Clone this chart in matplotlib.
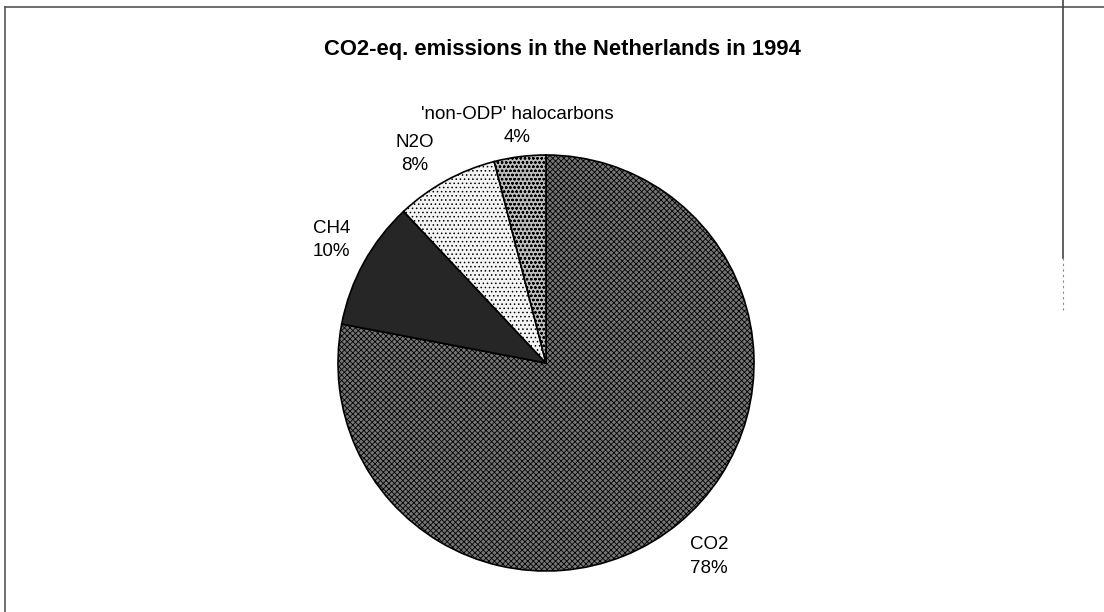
import numpy as np
import matplotlib
matplotlib.use("Agg")
import matplotlib.pyplot as plt
from matplotlib.lines import Line2D

plt.rcParams['font.family'] = ['Liberation Sans', 'DejaVu Sans']
plt.rcParams['hatch.linewidth'] = 0.6

# data
gases = ["CO2", "CH4", "N2O", "'non-ODP' halocarbons"]
shares = [78, 10, 8, 4]

face = ['#767676', '#262626', '#f4f4f4', '#bcbcbc']
hatches = ['xxxxxx', '', '....', 'oooo']
# label placement: distance from centre (in radii) and small angle nudge (deg)
lab_dist = [1.215, 1.19, 1.186, 1.148]
lab_nudge = [0.5, -1.0, 3.3, -0.2]

W, H = 1104, 612
fig = plt.figure(figsize=(W / 100, H / 100), dpi=100)

# pie centre (546, 363) px, radius 208 px
cx, cy, r = 546, 363, 208
ax = fig.add_axes([(cx - r) / W, (H - cy - r) / H, 2 * r / W, 2 * r / H])

wedges, _ = ax.pie(shares, startangle=90, counterclock=False, radius=1,
                   wedgeprops=dict(edgecolor='black', linewidth=1.2))
for w, fc, h in zip(wedges, face, hatches):
    w.set_facecolor(fc)
    w.set_hatch(h)

# name on one line, share on the next (24 px apart)
for w, g, s, d, n in zip(wedges, gases, shares, lab_dist, lab_nudge):
    ang = np.deg2rad((w.theta1 + w.theta2) / 2 + n)
    xy = (d * np.cos(ang), d * np.sin(ang))
    ax.annotate(g, xy, xytext=(0, 8.6), textcoords='offset points',
                ha='center', va='center', fontsize=13.5, annotation_clip=False)
    ax.annotate(f"{s}%", xy, xytext=(0, -8.6), textcoords='offset points',
                ha='center', va='center', fontsize=13.5, annotation_clip=False)

ax.set_xlim(-1, 1)
ax.set_ylim(-1, 1)
ax.axis('off')

fig.text(562 / W, 1 - 49 / H, "CO2-eq. emissions in the Netherlands in 1994",
         ha='center', va='center', fontsize=15.8, fontweight='bold')

# page frame
fig.add_artist(Line2D([5 / W, 1], [1 - 7 / H, 1 - 7 / H], transform=fig.transFigure,
                      color='#555555', lw=1.2))
fig.add_artist(Line2D([5 / W, 5 / W], [0, 1 - 7 / H], transform=fig.transFigure,
                      color='#555555', lw=1.2))
fig.add_artist(Line2D([1063 / W, 1063 / W], [1 - 258 / H, 1], transform=fig.transFigure,
                      color='#444444', lw=1.2))
fig.add_artist(Line2D([1063 / W, 1063 / W], [1 - 310 / H, 1 - 258 / H], transform=fig.transFigure,
                      color='#888888', lw=0.8, ls=(0, (2, 3))))

fig.savefig("out.png", dpi=100, facecolor='white')
